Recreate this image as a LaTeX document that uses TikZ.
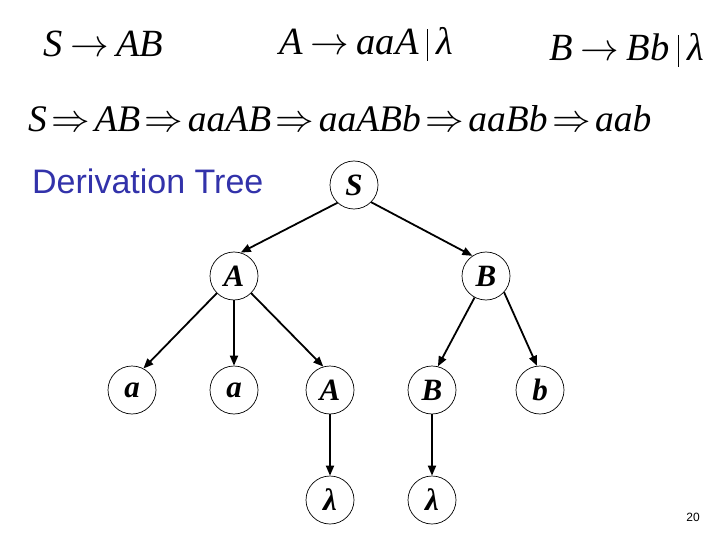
\documentclass[tikz,border=0pt]{standalone}
\usepackage{graphicx}
\usepackage{fontspec}
\setmainfont{Liberation Serif}
\newfontfamily\labelfont{Liberation Sans}
\usetikzlibrary{arrows.meta}
\definecolor{titleblue}{RGB}{50,50,170}
\newcommand{\bigsym}[1]{\scalebox{1.55}{\fontsize{24.88}{30}\selectfont$#1$}}
\newcommand{\myra}{\hspace{0.2em}\bigsym{\rightarrow}\hspace{0.2em}}
\newcommand{\myRa}{\hspace{0.12em}\bigsym{\Rightarrow}\hspace{0.12em}}
\newcommand{\mybar}{\hspace{0.22em}\rule[-6pt]{1.2pt}{32pt}\hspace{0.22em}}
\begin{document}
\begin{tikzpicture}[x=1pt,y=-1pt,
  tnode/.style={circle,draw,line width=0.7pt,minimum size=48pt,inner sep=0pt,
    font=\fontsize{31}{31}\selectfont\bfseries\itshape},
  edge/.style={line width=1.8pt,-{Triangle[length=10pt,width=8pt]}},
  rule/.style={anchor=base west,inner sep=0pt,font=\fontsize{38.5}{44}\selectfont\itshape},
  deriv/.style={anchor=base west,inner sep=0pt,font=\fontsize{37.5}{44}\selectfont\itshape}]
\useasboundingbox (0,0) rectangle (720,540);
\fill[white] (0,0) rectangle (720,540);
% productions
\node[rule] (r1) at (43,57) {S\myra AB};
\node[rule] (r2) at (279,55) {A\myra aaA\mybar λ};
\node[rule] (r3) at (549,61) {B\myra Bb\mybar λ};
% derivation
\node[deriv] (d) at (28,132) {S\myRa AB\myRa aaAB\myRa aaABb\myRa aaBb\myRa aab};
% title
\node[anchor=base west,inner sep=0pt,text=titleblue,font=\labelfont\fontsize{34}{40}\selectfont] (t) at (32,194) {Derivation Tree};
% tree
\node[tnode] (S) at (354,185) {S};
\node[tnode] (A) at (234,276) {A};
\node[tnode] (B) at (486,276) {B};
\node[tnode] (a1) at (132,390) {a};
\node[tnode] (a2) at (234,390) {a};
\node[tnode] (A3) at (330,390) {A};
\node[tnode] (B3) at (432,390) {B};
\node[tnode] (b) at (540,390) {b};
\node[tnode] (l1) at (330,500) {λ};
\node[tnode] (l2) at (432,500) {λ};
\draw[edge] (S.227) -- (A.74);
\draw[edge] (S.315) -- (B.124);
\draw[edge] (A.225) -- (a1.62);
\draw[edge] (A.270) -- (a2.90);
\draw[edge] (A.315) -- (A3.106);
\draw[edge] (B.242) -- (B3.76);
\draw[edge] (B.318) -- (b.97);
\draw[edge] (A3.270) -- (l1.90);
\draw[edge] (B3.270) -- (l2.90);
% page number
\node[inner sep=0pt,font=\labelfont\fontsize{12}{14}\selectfont] (pg) at (693,517) {20};
\end{tikzpicture}
\end{document}
